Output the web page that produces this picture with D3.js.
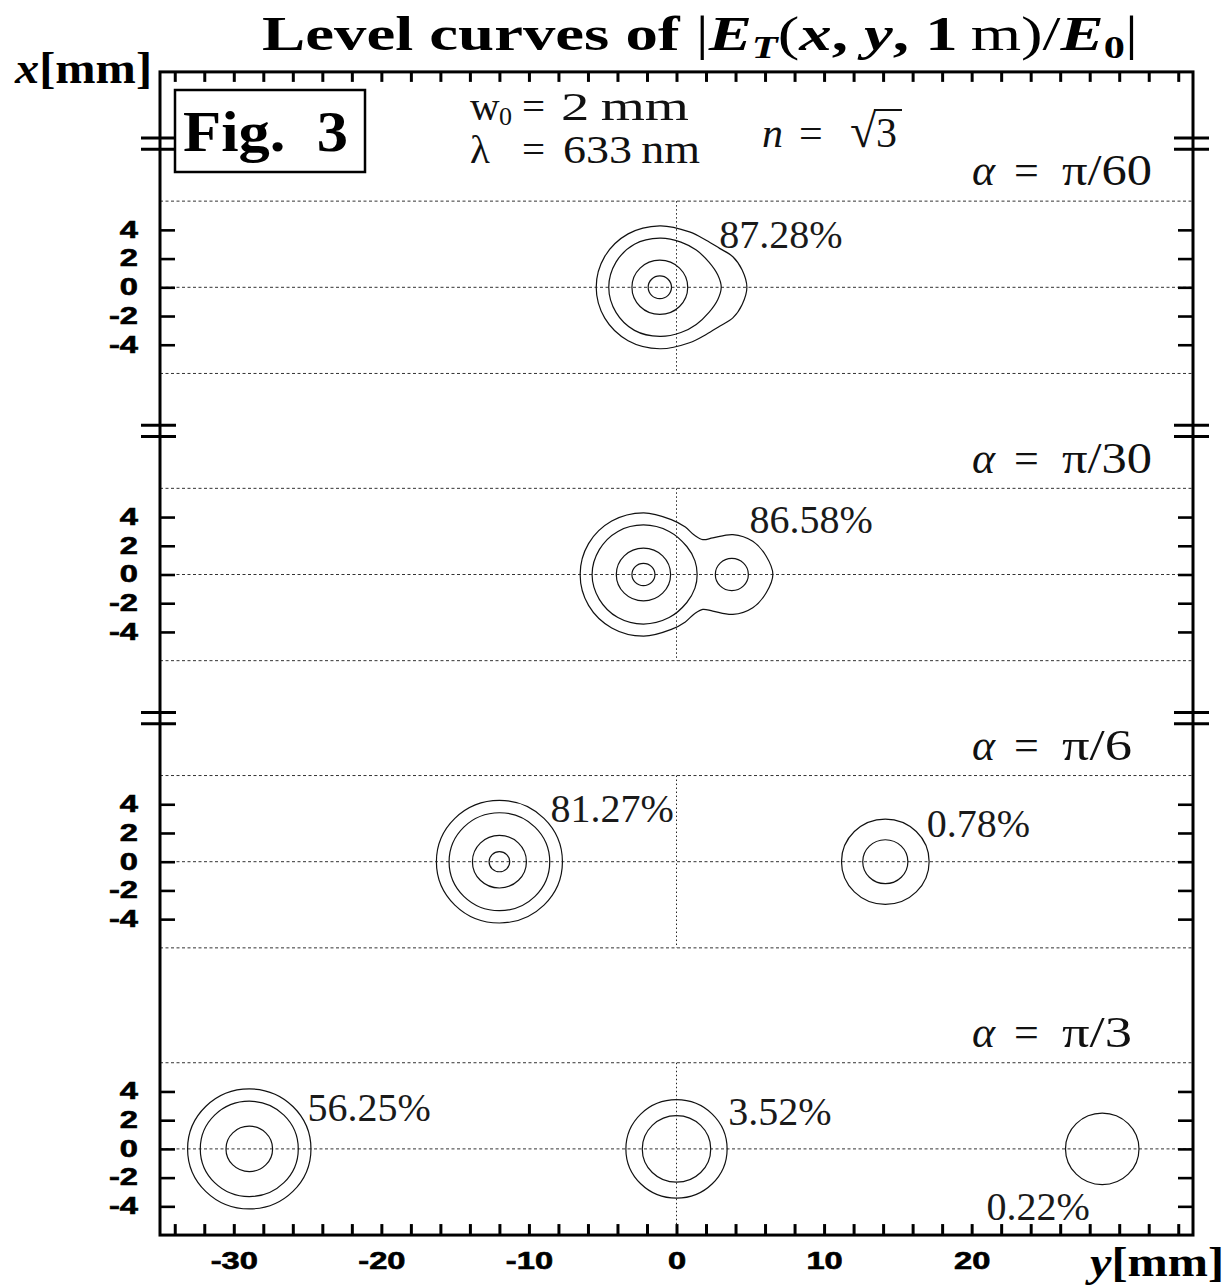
<!DOCTYPE html>
<html>
<head>
<meta charset="utf-8">
<script src="https://cdn.jsdelivr.net/npm/d3@7"></script>
<style>
  body { margin: 0; background: #fff; }
  .serif { font-family: "Liberation Serif", serif; }
</style>
</head>
<body>
<script>

//Transverse coordinate ticks (the horizontal "y" axis, mm)
var yTicks = d3.range(-34, 35, 2);
var yLabelled = [-30, -20, -10, 0, 10, 20];

//Vertical "x" axis ticks, repeated in every panel (mm)
var xTicks = [-4, -2, 0, 2, 4];

//One panel per incidence angle
var alphaLabels = ["\u03c0/60", "\u03c0/30", "\u03c0/6", "\u03c0/3"];

//Circular level curves: panel, centre on the y axis (mm), radius (mm)
var ringPanel  = [0, 0, 1, 1, 1, 2, 2, 2, 2, 2, 2, 3, 3, 3, 3, 3, 3];
var ringCenter = [-1.13, -1.13, -2.24, -2.24, 3.75, -12, -12, -12, -12, 14.15, 14.15, -28.95, -28.95, -28.95, 0, 0, 28.85];
var ringRadius = [0.79, 1.89, 0.78, 1.84, 1.12, 0.70, 1.83, 3.41, 4.27, 1.53, 2.97, 1.58, 3.32, 4.18, 2.32, 3.43, 2.49];

//Non circular level curves, upper half [y, x] in mm
var blobPanel = [0, 0, 1, 1];
var blobPoints = [
    [[-4.59, 0], [-4.1, 1.75], [-2.85, 3.0], [-1.13, 3.42], [0.3, 3.15], [1.34, 2.59], [2.2, 1.75], [2.8, 0.85], [3.03, 0]],
    [[-5.44, 0], [-4.86, 2.15], [-3.28, 3.72], [-1.13, 4.28], [0.88, 3.86], [2.01, 3.28], [2.92, 2.71], [3.82, 2.13], [4.45, 1.2], [4.77, 0]],
    [[-5.72, 0], [-5.23, 1.73], [-3.97, 3.0], [-2.24, 3.45], [-0.5, 3.0], [0.7, 1.95], [1.25, 0.95], [1.4, 0]],
    [[-6.53, 0], [-5.96, 2.15], [-4.39, 3.72], [-2.24, 4.29], [-0.35, 3.82], [0.6, 3.3], [1.2, 2.75], [1.78, 2.43], [2.46, 2.55], [3.82, 2.78], [5.17, 2.31], [6.08, 1.27], [6.53, 0]]
];

//Power fraction of each spot, and where its label sits (mm)
var peakLabels = ["87.28%", "86.58%", "81.27%", "0.78%", "56.25%", "3.52%", "0.22%"];
var peakPanel  = [0, 1, 2, 2, 3, 3, 3];
var peakLabelY = [2.9, 4.95, -8.54, 16.95, -25.0, 3.5, 21.0];
var peakLabelX = [2.74, 2.89, 2.79, 1.7, 1.94, 1.66, -4.95];


var svg = d3.select("body").append("svg")
    .attr("width", 1232)
    .attr("height", 1288);

//Horizontal scale shared by all panels
var yScale = d3.scaleLinear().domain([-35, 35]).range([160, 1193]);

//Each panel gets its own vertical scale, stacked with a broken axis
function panelScale(i) {
    var c = 287.3 + i * 287.2;
    return d3.scaleLinear().domain([-10, 10]).range([c + 143.6, c - 143.6]);
}
var xScales = [0, 1, 2, 3].map(panelScale);

var frameTop = xScales[0](15),
    frameBottom = xScales[3](-6);


//Dotted reference lines inside each panel
xScales.forEach(function(s, i) {
    var levels = i == 3 ? [6, 0] : [6, 0, -6];
    svg.selectAll(null)
        .data(levels)
        .enter()
        .append("line")
        .attr("x1", yScale(-35)).attr("x2", yScale(35))
        .attr("y1", function(d) { return s(d); })
        .attr("y2", function(d) { return s(d); })
        .attr("stroke", "#333")
        .attr("stroke-width", 1)
        .attr("stroke-dasharray", "3,2.5");

    svg.append("line")
        .attr("x1", yScale(0)).attr("x2", yScale(0))
        .attr("y1", s(6)).attr("y2", i == 3 ? frameBottom : s(-6))
        .attr("stroke", "#222")
        .attr("stroke-width", 1)
        .attr("stroke-dasharray", "1.5,2.5");
});


//Circular contours
svg.selectAll("ellipse.ring")
    .data(ringCenter)
    .enter()
    .append("ellipse")
    .attr("class", "ring")
    .attr("cx", function(d) { return yScale(d); })
    .attr("cy", function(d, i) { return xScales[ringPanel[i]](0); })
    .attr("rx", function(d, i) { return yScale(d + ringRadius[i]) - yScale(d); })
    .attr("ry", function(d, i) { var s = xScales[ringPanel[i]]; return s(0) - s(ringRadius[i]); })
    .attr("fill", "none")
    .attr("stroke", "#111")
    .attr("stroke-width", 1.2);

//Merged contours: mirror the traced upper half to close the loop
var blobLine = d3.line().curve(d3.curveCatmullRomClosed);

svg.selectAll("path.blob")
    .data(blobPoints)
    .enter()
    .append("path")
    .attr("class", "blob")
    .attr("d", function(pts, i) {
        var s = xScales[blobPanel[i]];
        var lower = pts.slice(1, -1).reverse().map(function(p) { return [p[0], -p[1]]; });
        return blobLine(pts.concat(lower).map(function(p) { return [yScale(p[0]), s(p[1])]; }));
    })
    .attr("fill", "none")
    .attr("stroke", "#111")
    .attr("stroke-width", 1.2);


//Frame
svg.append("rect")
    .attr("x", yScale(-35)).attr("y", frameTop)
    .attr("width", yScale(35) - yScale(-35))
    .attr("height", frameBottom - frameTop)
    .attr("fill", "none")
    .attr("stroke", "#000")
    .attr("stroke-width", 3);

//Tick labels are a wide, heavy sans: stretch the glyphs sideways
function styleTicks(g) {
    g.select(".domain").remove();
    g.selectAll(".tick text")
        .style("font-family", "'Liberation Sans', Arial, sans-serif")
        .style("font-weight", "bold")
        .style("font-size", "23px")
        .attr("fill", "#000")
        .attr("stroke", "#000")
        .attr("stroke-width", 0.6)
        .each(function() {
            var len = this.getComputedTextLength();
            if (len > 0) {
                d3.select(this).attr("textLength", len * 1.42).attr("lengthAdjust", "spacingAndGlyphs");
            }
        });
}

//Plain hyphen minus, like the original
function plain(d) { return String(d); }

//Bottom axis, ticks pointing in
var bottomAxis = svg.append("g")
    .attr("transform", "translate(0," + frameBottom + ")")
    .call(d3.axisBottom(yScale).tickValues(yTicks).tickSize(-11).tickPadding(18)
        .tickFormat(function(d) { return yLabelled.indexOf(d) >= 0 ? plain(d) : ""; }));

var topAxis = svg.append("g")
    .attr("transform", "translate(0," + frameTop + ")")
    .call(d3.axisTop(yScale).tickValues(yTicks).tickSize(-10).tickFormat(""));

[bottomAxis, topAxis].forEach(function(g) {
    styleTicks(g);
    g.selectAll(".tick line").attr("stroke", "#000").attr("stroke-width", 3);
});

//Left and right axes for every panel
xScales.forEach(function(s, i) {
    var left = svg.append("g")
        .attr("transform", "translate(" + yScale(-35) + ",0)")
        .call(d3.axisLeft(s).tickValues(xTicks).tickSize(-15).tickPadding(22).tickFormat(plain));
    var right = svg.append("g")
        .attr("transform", "translate(" + yScale(35) + ",0)")
        .call(d3.axisRight(s).tickValues(xTicks).tickSize(-15).tickFormat(""));
    [left, right].forEach(function(g) {
        styleTicks(g);
        g.selectAll(".tick line").attr("stroke", "#000").attr("stroke-width", 2.6);
    });

    //Axis break marks between panels
    if (i < 3) {
        var yb = s(10);
        [yScale(-35), yScale(35)].forEach(function(xa) {
            svg.selectAll(null)
                .data([-5.6, 5.6])
                .enter()
                .append("line")
                .attr("x1", xa - 19).attr("x2", xa + 16)
                .attr("y1", function(d) { return yb + d; })
                .attr("y2", function(d) { return yb + d; })
                .attr("stroke", "#000")
                .attr("stroke-width", 3);
        });
    }

    //alpha label of the panel
    var a = svg.append("text")
        .attr("class", "serif")
        .attr("y", s(7.1))
        .attr("font-size", 44)
        .attr("fill", "#111");
    a.append("tspan").attr("x", 972).attr("font-style", "italic").text("\u03b1");
    a.append("tspan").attr("x", 1014).text("=");
    a.append("tspan").attr("x", 1062)
        .attr("textLength", alphaLabels[i].length > 3 ? 90 : 70)
        .attr("lengthAdjust", "spacingAndGlyphs")
        .text(alphaLabels[i]);
});


//Percent labels
svg.selectAll("text.peak")
    .data(peakLabels)
    .enter()
    .append("text")
    .attr("class", "serif peak")
    .attr("x", function(d, i) { return yScale(peakLabelY[i]); })
    .attr("y", function(d, i) { return xScales[peakPanel[i]](peakLabelX[i]); })
    .attr("font-size", 40)
    .attr("fill", "#1a1a1a")
    .text(function(d) { return d; });


//Title
var title = svg.append("text")
    .attr("class", "serif")
    .attr("x", 262).attr("y", 50)
    .attr("font-size", 49)
    .attr("font-weight", "bold")
    .attr("textLength", 876)
    .attr("lengthAdjust", "spacingAndGlyphs");
title.append("tspan").text("Level curves of ");
title.append("tspan").attr("font-weight", "normal").text("|");
title.append("tspan").attr("font-style", "italic").text("E");
title.append("tspan").attr("font-style", "italic").attr("font-size", 32).attr("dy", 8).text("T");
title.append("tspan").attr("font-weight", "normal").attr("dy", -8).text("(");
title.append("tspan").attr("font-style", "italic").text("x");
title.append("tspan").text(", ");
title.append("tspan").attr("font-style", "italic").text("y");
title.append("tspan").text(", 1");
title.append("tspan").attr("font-weight", "normal").text("\u2009m)/");
title.append("tspan").attr("font-style", "italic").text("E");
title.append("tspan").attr("font-size", 32).attr("dy", 8).text("0");
title.append("tspan").attr("font-weight", "normal").attr("dy", -8).text("|");

//Axis names
var xName = svg.append("text")
    .attr("class", "serif")
    .attr("x", 15).attr("y", 83)
    .attr("font-size", 44).attr("font-weight", "bold")
    .attr("textLength", 137).attr("lengthAdjust", "spacingAndGlyphs");
xName.append("tspan").attr("font-style", "italic").text("x");
xName.append("tspan").text("[mm]");

var yName = svg.append("text")
    .attr("class", "serif")
    .attr("x", 1090).attr("y", 1276)
    .attr("font-size", 42).attr("font-weight", "bold")
    .attr("textLength", 134).attr("lengthAdjust", "spacingAndGlyphs");
yName.append("tspan").attr("font-style", "italic").text("y");
yName.append("tspan").text("[mm]");


//Figure tag
svg.append("rect")
    .attr("x", 175).attr("y", 90)
    .attr("width", 190).attr("height", 82)
    .attr("fill", "none")
    .attr("stroke", "#000")
    .attr("stroke-width", 2.5);
svg.append("text")
    .attr("class", "serif")
    .attr("x", 183).attr("y", 151)
    .attr("font-size", 58).attr("font-weight", "bold")
    .attr("textLength", 165).attr("lengthAdjust", "spacingAndGlyphs")
    .text("Fig.\u00a0 3");

//Beam parameters
var w0 = svg.append("text").attr("class", "serif").attr("y", 120).attr("font-size", 41).attr("fill", "#111");
w0.append("tspan").attr("x", 470).text("w");
w0.append("tspan").attr("x", 499).attr("dy", 5).attr("font-size", 26).text("0");
w0.append("tspan").attr("x", 522).attr("dy", -5).text("=");
w0.append("tspan").attr("x", 561)
    .attr("textLength", 128).attr("lengthAdjust", "spacingAndGlyphs")
    .text("2\u2009mm");

var lam = svg.append("text").attr("class", "serif").attr("y", 163).attr("font-size", 41).attr("fill", "#111");
lam.append("tspan").attr("x", 470).text("\u03bb");
lam.append("tspan").attr("x", 522).text("=");
lam.append("tspan").attr("x", 563)
    .attr("textLength", 137).attr("lengthAdjust", "spacingAndGlyphs")
    .text("633\u2009nm");

var idx = svg.append("text").attr("class", "serif").attr("y", 147).attr("font-size", 42).attr("fill", "#111");
idx.append("tspan").attr("x", 762).attr("font-style", "italic").text("n");
idx.append("tspan").attr("x", 799).text("=");
idx.append("tspan").attr("x", 850).attr("font-size", 48).text("\u221a");
idx.append("tspan").attr("x", 876).text("3");
svg.append("line")
    .attr("x1", 874).attr("x2", 902)
    .attr("y1", 110).attr("y2", 110)
    .attr("stroke", "#111").attr("stroke-width", 2);

</script>
</body>
</html>
